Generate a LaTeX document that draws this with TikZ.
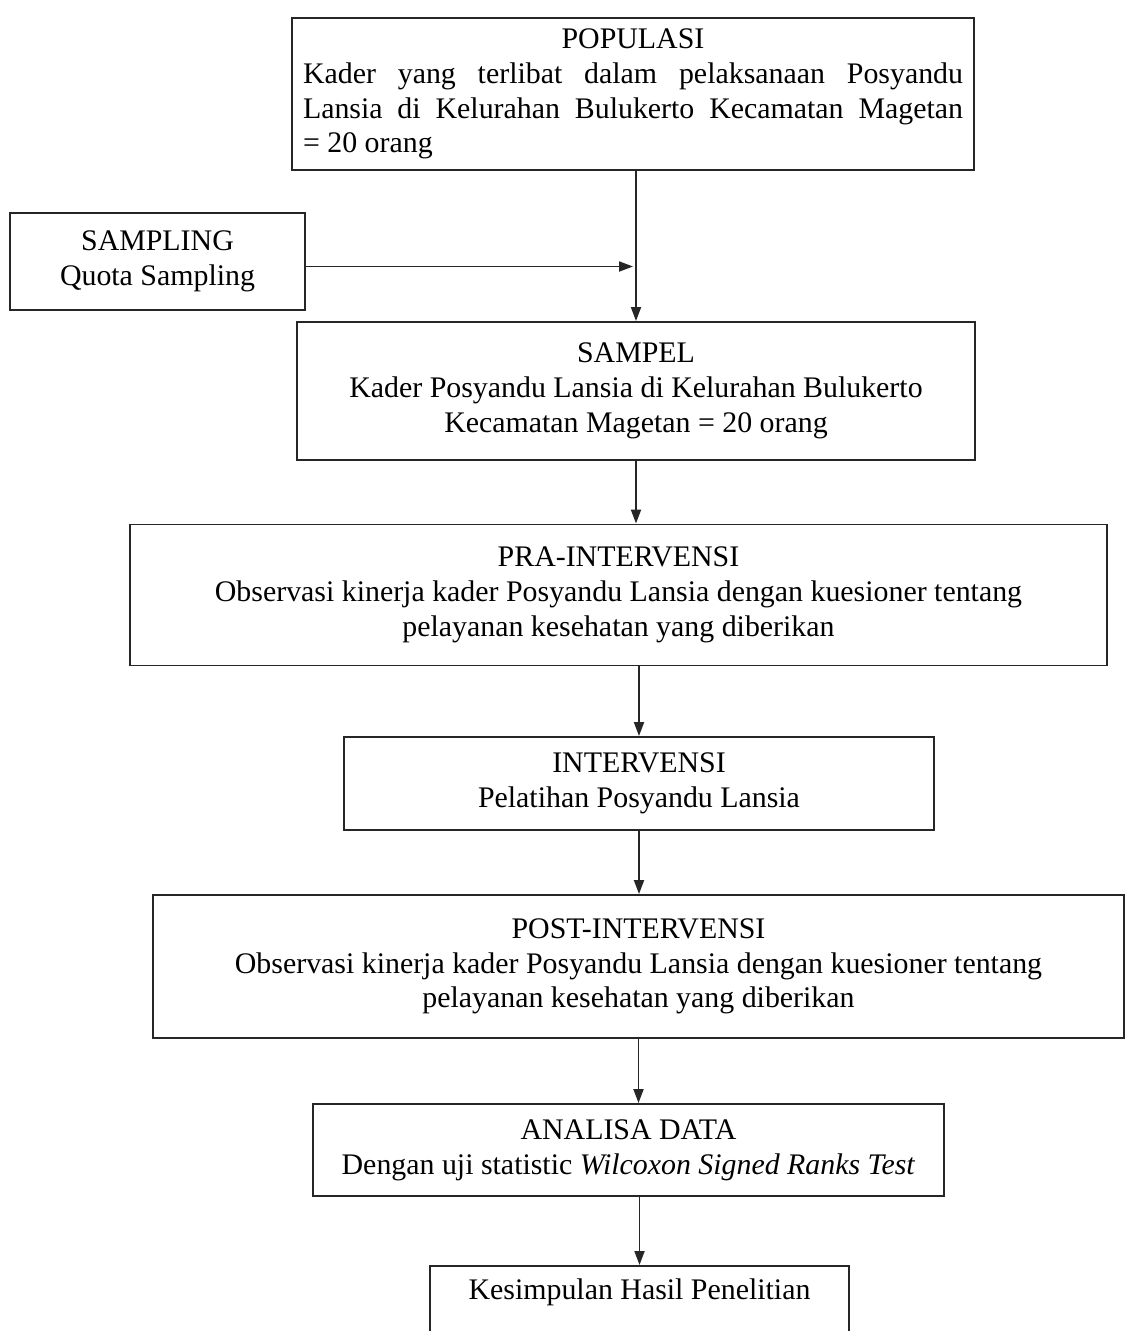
\documentclass[tikz,border=0pt]{standalone}
\usepackage{fontspec}
\setmainfont{Liberation Serif}
\usetikzlibrary{arrows.meta}
\usetikzlibrary{calc}

\begin{document}
\begin{tikzpicture}[
    font=\fontsize{17}{19.8}\selectfont,
    box/.style={rectangle, draw=black!85, line width=1.1pt, align=center, inner xsep=0.22cm, inner ysep=0.2cm},
    arr/.style={line width=1.1pt, draw=black!85, -{Triangle[length=0.28cm, width=0.2cm]}}
]

% Page frame
\useasboundingbox (0,0) rectangle (22.58,-26.62);

% Boxes
\node[box, text width=13.2cm, align=justify, minimum height=3.04cm] (popBox) at (12.66,-1.88)
  {{\centering POPULASI\par}Kader yang terlibat dalam pelaksanaan Posyandu\linebreak
   Lansia di Kelurahan Bulukerto Kecamatan Magetan\linebreak
   = 20 orang};
\node[box, minimum width=5.9cm, minimum height=1.94cm] (samplingBox) at (3.15,-5.23)
  {SAMPLING\\Quota Sampling};
\node[box, minimum width=13.56cm, minimum height=2.76cm] (sampelBox) at (12.72,-7.82)
  {SAMPEL\\Kader Posyandu Lansia di Kelurahan Bulukerto\\Kecamatan Magetan = 20 orang};
\node[box, minimum width=19.54cm, minimum height=2.82cm] (praBox) at (12.37,-11.9)
  {PRA-INTERVENSI\\Observasi kinerja kader Posyandu Lansia dengan kuesioner tentang\\pelayanan kesehatan yang diberikan};
\node[box, minimum width=11.8cm, minimum height=1.86cm] (intervBox) at (12.78,-15.67)
  {INTERVENSI\\Pelatihan Posyandu Lansia};
\node[box, minimum width=19.42cm, minimum height=2.86cm] (postBox) at (12.77,-19.33)
  {POST-INTERVENSI\\Observasi kinerja kader Posyandu Lansia dengan kuesioner tentang\\pelayanan kesehatan yang diberikan};
\node[box, minimum width=12.62cm, minimum height=1.84cm] (analisaBox) at (12.57,-23.0)
  {ANALISA DATA\\Dengan uji statistic \textit{Wilcoxon Signed Ranks Test}};
\node[box, anchor=north, minimum width=8.38cm, text depth=1.2cm, inner ysep=0.25cm] (kesBox) at (12.79,-25.3)
  {Kesimpulan Hasil Penelitian};

% Flow
\draw[arr] (popBox.south -| sampelBox.north) -- (sampelBox.north);
\draw[arr] ([yshift=-0.1cm]samplingBox.east) -- ([yshift=-0.1cm]samplingBox.east -| popBox.south);
\draw[arr] (sampelBox.south) -- (sampelBox.south |- praBox.north);
\draw[arr] (intervBox.north |- praBox.south) -- (intervBox.north);
\draw[arr] (intervBox.south) -- (intervBox.south |- postBox.north);
\draw[arr] (postBox.south) -- (postBox.south |- analisaBox.north);
\draw[arr] (kesBox.north |- analisaBox.south) -- (kesBox.north);

\end{tikzpicture}
\end{document}
